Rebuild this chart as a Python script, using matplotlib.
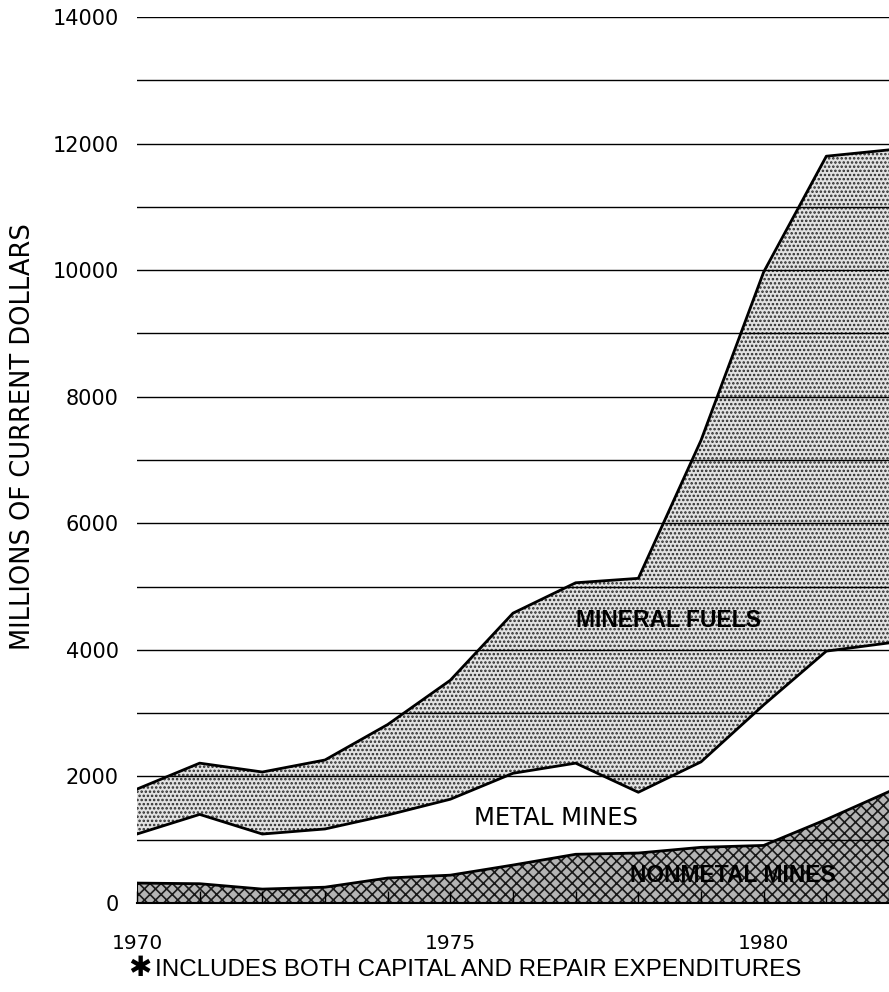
import matplotlib
matplotlib.use('Agg')
import matplotlib.pyplot as plt
import numpy as np

plt.rcParams['font.family'] = ['DejaVu Sans']
plt.rcParams['hatch.linewidth'] = 1.2

# Values (millions of current dollars)
years = [1970, 1971, 1972, 1973, 1974, 1975, 1976, 1977, 1978, 1979, 1980, 1981, 1982]
nonmetal = [315, 305, 220, 250, 395, 440, 600, 770, 790, 880, 910, 1320, 1760]
metal_top = [1090, 1400, 1090, 1170, 1390, 1640, 2050, 2210, 1750, 2230, 3130, 3980, 4110]
fuels_top = [1800, 2210, 2070, 2260, 2820, 3520, 4580, 5060, 5130, 7310, 9970, 11800, 11900]

y_ticks = [0, 2000, 4000, 6000, 8000, 10000, 12000, 14000]
x_labels = [1970, 1975, 1980]

fig = plt.figure(figsize=(8.89, 9.92), dpi=100)
ax = fig.add_axes([0.1541, 0.0897, 0.8459, 0.8932])

# stacked bands: nonmetal (dense dots), metal (white), mineral fuels (light dots)
ax.fill_between(years, 0, nonmetal, facecolor='#b4b4b4', edgecolor='#1a1a1a',
                hatch='xxx', linewidth=0, zorder=1)
ax.fill_between(years, metal_top, fuels_top, facecolor='#e2e2e2', edgecolor='#2a2a2a',
                hatch='....', linewidth=0, zorder=1)

for series in (nonmetal, metal_top, fuels_top):
    ax.plot(years, series, color='black', linewidth=2.0, zorder=3)
ax.plot([1970, 1970], [0, nonmetal[0]], color='black', linewidth=1.5, zorder=3)

# horizontal rules every 1000
for yv in range(1000, 14001, 1000):
    ax.axhline(yv, color='black', linewidth=1.0, zorder=2)

ax.set_xlim(1970, 1981.9)
ax.set_ylim(0, 14000)

for side in ('top', 'right', 'left'):
    ax.spines[side].set_visible(False)
ax.spines['bottom'].set_linewidth(1.5)

ax.set_yticks(y_ticks)
ax.set_yticklabels([str(v) for v in y_ticks], fontsize=15)
ax.tick_params(axis='y', length=0, pad=13)

ax.set_xticks(x_labels)
ax.set_xticklabels([str(v) for v in x_labels], fontsize=14.5)
ax.set_xticks(years, minor=True)
ax.tick_params(axis='x', which='both', direction='in', length=9, width=1.0, pad=22)

ax.set_ylabel('MILLIONS OF CURRENT DOLLARS', fontsize=18.5)
ax.yaxis.set_label_coords(-0.134, 0.526)

ax.text(1978.48, 4470, 'MINERAL FUELS', fontsize=16.5, fontweight='bold',
        family=['Liberation Sans'], ha='center', va='center', zorder=4)
ax.text(1976.69, 1340, 'METAL MINES', fontsize=17.5, ha='center', va='center', zorder=4)
ax.text(1979.51, 440, 'NONMETAL MINES', fontsize=16.5, fontweight='bold',
        family=['Liberation Sans'], ha='center', va='center', zorder=4)

fig.text(0.157, 0.024, '\u2731', fontsize=20, fontweight='bold',
         ha='center', va='center')
fig.text(0.174, 0.022, 'INCLUDES BOTH CAPITAL AND REPAIR EXPENDITURES', fontsize=17.4,
         family=['Liberation Sans'], ha='left', va='center')

fig.savefig('out.png', dpi=100)
